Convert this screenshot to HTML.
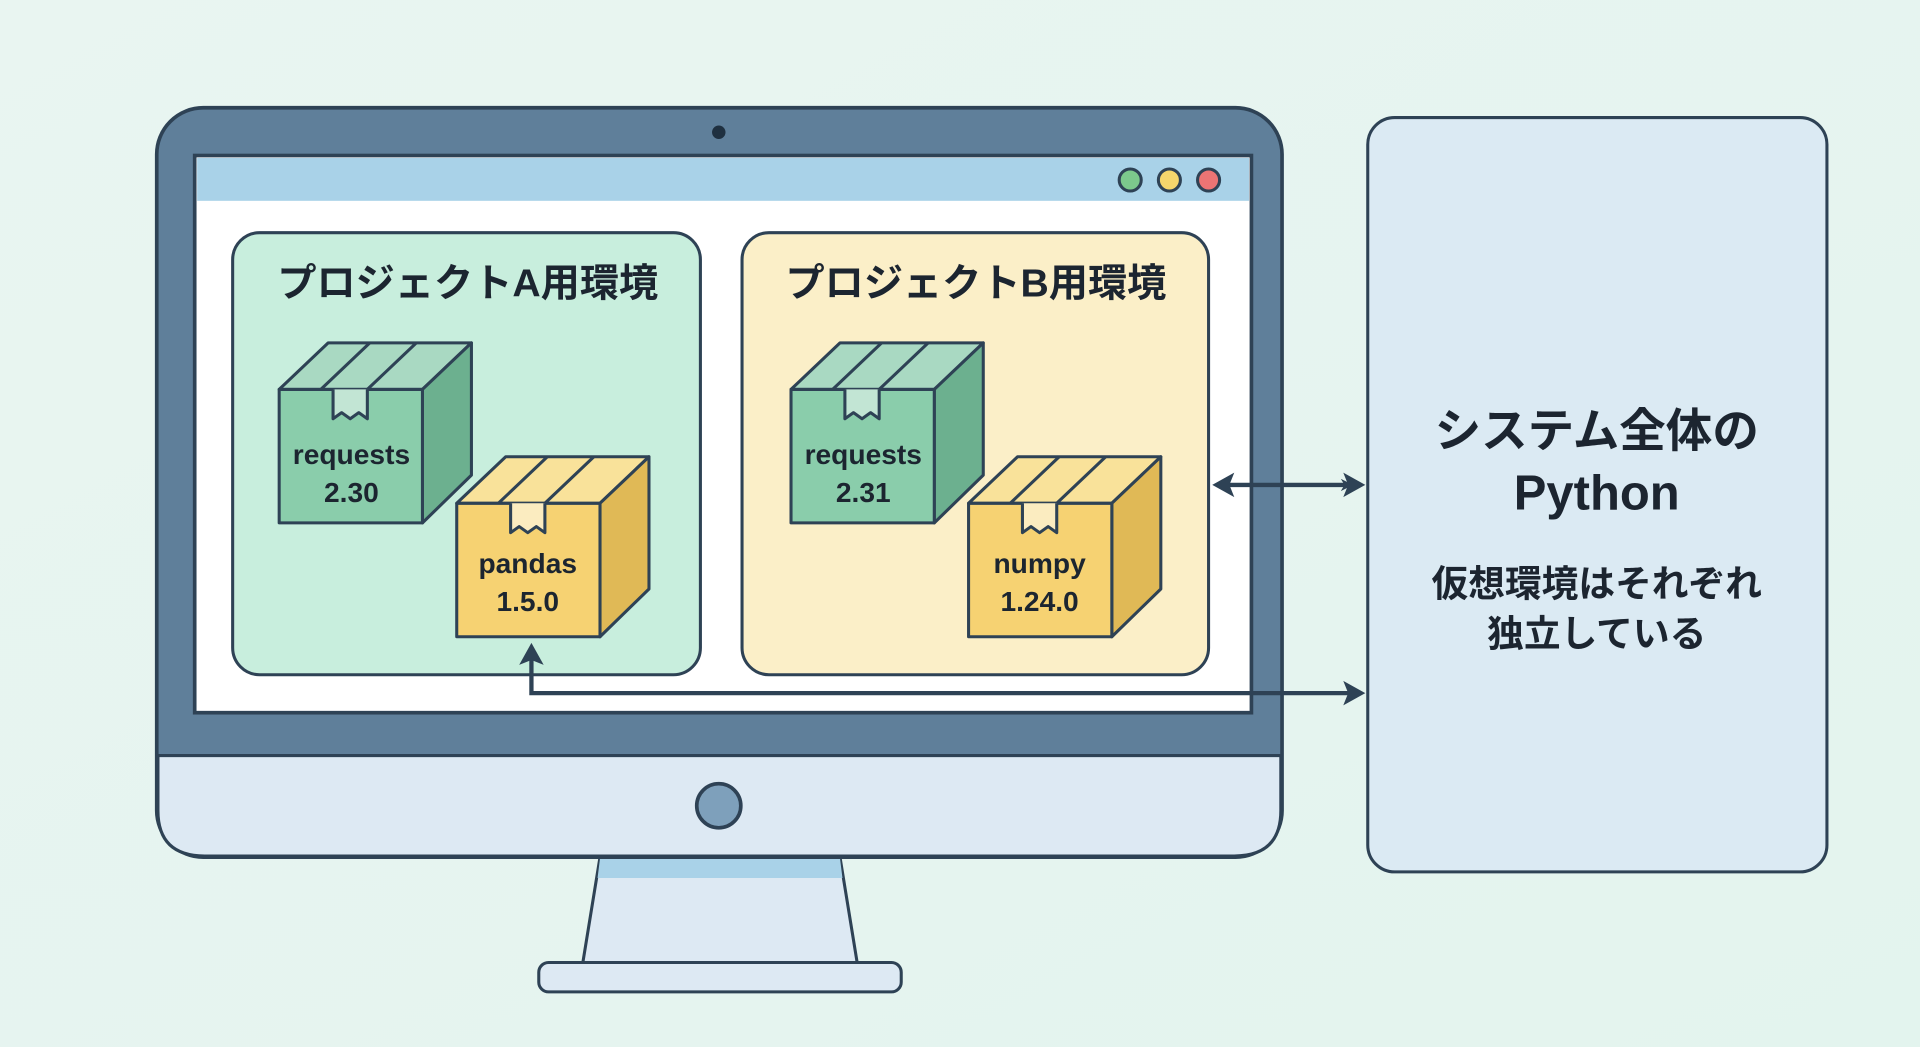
<!DOCTYPE html>
<html><head><meta charset="utf-8"><style>
html,body{margin:0;padding:0;width:1920px;height:1047px;overflow:hidden;background:#e6f5ef}
svg{display:block}
text{font-family:"Liberation Sans","Noto Sans CJK JP",sans-serif;font-weight:bold;fill:#1c2530;text-anchor:middle}
</style></head><body>
<svg width="1920" height="1047" viewBox="0 0 1568 855" preserveAspectRatio="none">
<defs>
<linearGradient id="bg" x1="0" y1="0" x2="1" y2="1"><stop offset="0" stop-color="#e9f5f1"/><stop offset="1" stop-color="#e3f4ee"/></linearGradient>
<marker id="ah" markerWidth="10" markerHeight="10" refX="8" refY="5" orient="auto" markerUnits="userSpaceOnUse"><path d="M0,0 L10,5 L0,10 L3,5 Z" fill="#2e4255"/></marker>
</defs>
<rect width="1568" height="855" fill="url(#bg)"/>
<!-- stand -->
<path d="M490,700 L686,700 L700,786 L476,786 Z" fill="#dde9f3" stroke="#2e4255" stroke-width="2.5"/>
<path d="M490,701 L686,701 L688,717 L488,717 Z" fill="#a9d2e8"/>
<rect x="440" y="786" width="296" height="24" rx="8" fill="#dde9f3" stroke="#2e4255" stroke-width="2.5"/>
<!-- monitor -->
<rect x="128" y="88" width="919" height="612" rx="38" fill="#5f7f9a" stroke="#2e4255" stroke-width="3"/>
<path d="M129,617 L1046,617 L1046,662 Q1046,699 1008,699 L167,699 Q129,699 129,662 Z" fill="#dde9f3" stroke="#2e4255" stroke-width="2.5"/>
<circle cx="587" cy="108" r="5.5" fill="#1f3040"/>
<circle cx="587" cy="658" r="18" fill="#7ea0bb" stroke="#2e4255" stroke-width="3"/>
<rect x="159" y="127" width="863" height="455" fill="#ffffff" stroke="#2e4255" stroke-width="3"/>
<rect x="161" y="129" width="859" height="35" fill="#a9d2e8"/>
<circle cx="923" cy="147" r="9" fill="#7cc98c" stroke="#2e4255" stroke-width="2.5"/>
<circle cx="955" cy="147" r="9" fill="#f5d66c" stroke="#2e4255" stroke-width="2.5"/>
<circle cx="987" cy="147" r="9" fill="#ec7474" stroke="#2e4255" stroke-width="2.5"/>
<!-- env boxes -->
<rect x="190" y="190" width="382" height="361" rx="22" fill="#c8eedd" stroke="#2e4255" stroke-width="2.5"/>
<rect x="606" y="190" width="381" height="361" rx="22" fill="#fbefc8" stroke="#2e4255" stroke-width="2.5"/>
<text x="382" y="242" font-size="32">プロジェクトA用環境</text>
<text x="797" y="242" font-size="32">プロジェクトB用環境</text>
<!-- cube template -->
<g id="cg" stroke="#2e4255" stroke-width="2.5" stroke-linejoin="round">
<path d="M228,318 L268,280 L385,280 L345,318 Z" fill="#a9d9c2"/>
<path d="M345,318 L385,280 L385,388 L345,427 Z" fill="#6cb08f"/>
<rect x="228" y="318" width="117" height="109" fill="#8acdab"/>
<path d="M262,318 L302,280 M300,318 L340,280" fill="none"/>
<path d="M272,318 L272,342 L279,337 L286,342 L293,337 L300,342 L300,318" fill="#c2e5d4"/>
</g>
<g stroke="#2e4255" stroke-width="2.5" stroke-linejoin="round" transform="translate(418,0)">
<path d="M228,318 L268,280 L385,280 L345,318 Z" fill="#a9d9c2"/>
<path d="M345,318 L385,280 L385,388 L345,427 Z" fill="#6cb08f"/>
<rect x="228" y="318" width="117" height="109" fill="#8acdab"/>
<path d="M262,318 L302,280 M300,318 L340,280" fill="none"/>
<path d="M272,318 L272,342 L279,337 L286,342 L293,337 L300,342 L300,318" fill="#c2e5d4"/>
</g>
<g stroke="#2e4255" stroke-width="2.5" stroke-linejoin="round" transform="translate(145,93)">
<path d="M228,318 L268,280 L385,280 L345,318 Z" fill="#f9e29a"/>
<path d="M345,318 L385,280 L385,388 L345,427 Z" fill="#e0b956"/>
<rect x="228" y="318" width="117" height="109" fill="#f6d272"/>
<path d="M262,318 L302,280 M300,318 L340,280" fill="none"/>
<path d="M272,318 L272,342 L279,337 L286,342 L293,337 L300,342 L300,318" fill="#fbecc0"/>
</g>
<g stroke="#2e4255" stroke-width="2.5" stroke-linejoin="round" transform="translate(563,93)">
<path d="M228,318 L268,280 L385,280 L345,318 Z" fill="#f9e29a"/>
<path d="M345,318 L385,280 L385,388 L345,427 Z" fill="#e0b956"/>
<rect x="228" y="318" width="117" height="109" fill="#f6d272"/>
<path d="M262,318 L302,280 M300,318 L340,280" fill="none"/>
<path d="M272,318 L272,342 L279,337 L286,342 L293,337 L300,342 L300,318" fill="#fbecc0"/>
</g>
<text x="287" y="379" font-size="23">requests</text>
<text x="287" y="410" font-size="23">2.30</text>
<text x="431" y="468" font-size="23">pandas</text>
<text x="431" y="499" font-size="23">1.5.0</text>
<text x="705" y="379" font-size="23">requests</text>
<text x="705" y="410" font-size="23">2.31</text>
<text x="849" y="468" font-size="23">numpy</text>
<text x="849" y="499" font-size="23">1.24.0</text>
<!-- right panel -->
<rect x="1117" y="96" width="375" height="616" rx="22" fill="#dbeaf3" stroke="#2e4255" stroke-width="2.5"/>
<text x="1304" y="365" font-size="38">システム全体の</text>
<text x="1304" y="416" font-size="40">Python</text>
<text x="1304" y="487" font-size="30">仮想環境はそれぞれ</text>
<text x="1304" y="528" font-size="30">独立している</text>
<!-- arrows -->
<line x1="1000" y1="396" x2="1103" y2="396" stroke="#2e4255" stroke-width="3.5" marker-end="url(#ah)" marker-start="url(#ahs)"/>
<path d="M990,396 L1008,386 L1004,396 L1008,406 Z" fill="#2e4255"/>
<path d="M1115,396 L1097,386 L1101,396 L1097,406 Z" fill="#2e4255"/>
<path d="M434,538 L434,566 L1102,566" fill="none" stroke="#2e4255" stroke-width="3.5"/>
<path d="M434,525 L424,543 L434,539 L444,543 Z" fill="#2e4255"/>
<path d="M1115,566 L1097,556 L1101,566 L1097,576 Z" fill="#2e4255"/>
</svg>
</body></html>
